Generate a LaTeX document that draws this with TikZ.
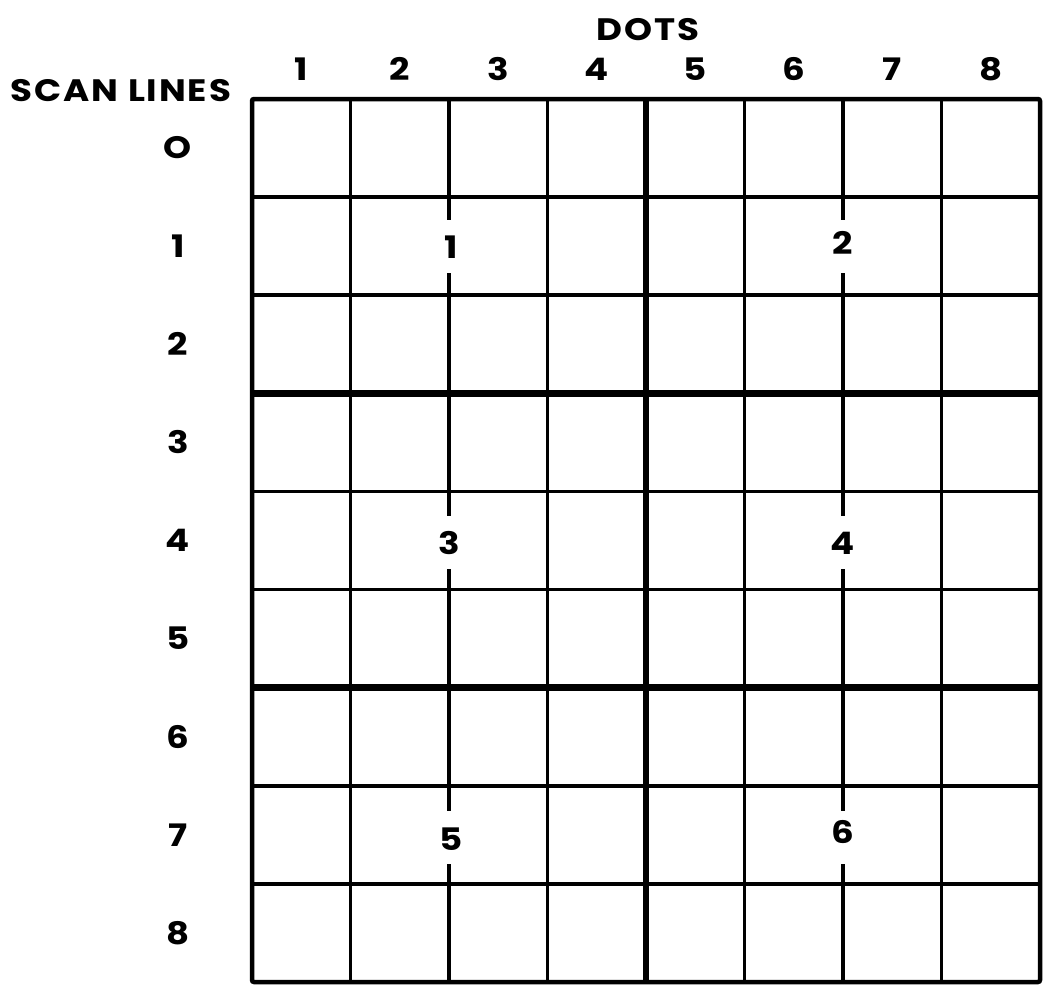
\documentclass[tikz,border=0pt]{standalone}
\usepackage{fontspec}
\setmainfont{Poppins}[FakeStretch=1.15, LetterSpace=6]
\usetikzlibrary{positioning}
\tikzset{
  thin rule/.style={line width=3.6pt},
  heavy rule/.style={line width=6.5pt},
  frame/.style={line width=4.5pt, rounded corners=2pt},
  label/.style={font=\fontsize{31}{31}\selectfont\bfseries, inner sep=0pt}
}

\begin{document}
\begin{tikzpicture}[x=1pt,y=-1pt]
\useasboundingbox (0,0) rectangle (1045,993);

% Dot columns: plain, heavy, and the two broken by the numbered marks.
\foreach \x in {350.5,547.5,744.5,941.5}
  \draw[thin rule] (\x,99) -- (\x,982);
\draw[heavy rule] (646,99) -- (646,982);
\foreach \x in {449,843}
  \draw[thin rule] (\x,99) -- (\x,220) (\x,273) -- (\x,516)
                   (\x,569) -- (\x,811) (\x,864) -- (\x,982);

% Scan-line rows.
\foreach \y in {197.1,295.2,491.4,589.5,785.7,883.8}
  \draw[thin rule] (252,\y) -- (1040,\y);
\foreach \y in {393.3,687.6}
  \draw[heavy rule] (252,\y) -- (1040,\y);
\draw[frame] (252,99) rectangle (1040,982);

% Headings.
\node[label] (dots) at (648,30) {DOTS};
\node[label] (scanlines) at (121,91) {SCAN LINES};

\foreach \n in {1,...,8}
  \node[label] (dot\n) at (252+98.5*\n-49.25,69) {\n};
\foreach \t/\n in {O/0,1/1,2/2,3/3,4/4,5/5,6/6,7/7,8/8}
  \node[label] (scan\n) at (178,148.05+98.1*\n) {\t};

% Numbered marks on the broken columns.
\node[label] (mark1) at (451,247) {1};
\node[label] (mark2) at (843,243) {2};
\node[label] (mark3) at (449,543) {3};
\node[label] (mark4) at (843,543) {4};
\node[label] (mark5) at (451,839) {5};
\node[label] (mark6) at (843,832) {6};

\end{tikzpicture}
\end{document}
